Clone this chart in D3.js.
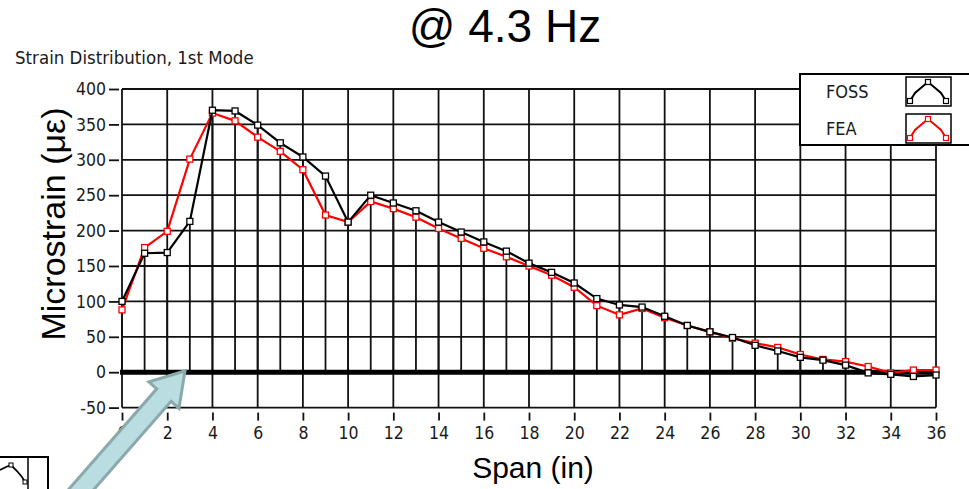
<!DOCTYPE html>
<html>
<head>
<meta charset="utf-8">
<script src="https://cdn.jsdelivr.net/npm/d3@7"></script>
<style>
  body { margin: 0; background: #fff; }
  svg { display: block; }
  .lv { font-family: "DejaVu Sans Condensed", "DejaVu Sans", sans-serif; fill: #1a1a1a; }
  .big { font-family: "Liberation Sans", Arial, sans-serif; fill: #000; }
</style>
</head>
<body>
<svg id="chart" width="969" height="489"></svg>
<script>
// span positions (in) and measured strain values (microstrain)
const spanIn = [0, 1, 2, 3, 4, 5, 6, 7, 8, 9, 10, 11, 12, 13, 14, 15, 16, 17, 18,
  19, 20, 21, 22, 23, 24, 25, 26, 27, 28, 29, 30, 31, 32, 33, 34, 35, 36];
const foss = [100, 168, 169, 213, 370, 369, 349, 324, 304, 277, 212, 250, 239, 228, 212, 198, 184, 171, 154,
  141, 126, 104, 95, 92, 79, 66, 57, 49, 38, 30, 21, 17, 10, -1, -3, -6, -4];
const fea = [88, 176, 199, 301, 366, 355, 332, 312, 286, 222, 212, 241, 231, 219, 203, 189, 175, 163, 150,
  137, 120, 94, 81, 90, 77, 66, 57, 48, 41, 35, 25, 18, 15, 8, -1, 3, 3];
const xTicks = [0, 2, 4, 6, 8, 10, 12, 14, 16, 18, 20, 22, 24, 26, 28, 30, 32, 34, 36];
const yTicks = [-50, 0, 50, 100, 150, 200, 250, 300, 350, 400];
const seriesNames = ["FOSS", "FEA"];
const seriesColors = ["#000000", "#ff0000"];

const svg = d3.select("#chart");

const x = d3.scaleLinear().domain([0, 36]).range([122, 936]);
const y = d3.scaleLinear().domain([-50, 400]).range([407.6, 89]);

// titles
svg.append("text").attr("class", "big")
  .attr("x", 505).attr("y", 42).attr("text-anchor", "middle")
  .style("font-size", "46px").text("@ 4.3 Hz");

svg.append("text").attr("class", "lv")
  .attr("x", 15).attr("y", 64)
  .style("font-size", "18.5px").text("Strain Distribution, 1st Mode");

// grid
const grid = svg.append("g");
grid.selectAll(".hg").data(yTicks).enter().append("line")
  .attr("x1", x(0)).attr("x2", x(36))
  .attr("y1", d => y(d)).attr("y2", d => y(d))
  .attr("stroke", "#111").attr("stroke-width", 1.8);
grid.selectAll(".vg").data(xTicks).enter().append("line")
  .attr("x1", d => x(d)).attr("x2", d => x(d))
  .attr("y1", y(-50)).attr("y2", y(400))
  .attr("stroke", "#111").attr("stroke-width", 1.8);

// drop lines from FOSS points to zero
grid.selectAll(".drop").data(spanIn).enter().append("line")
  .attr("x1", d => x(d)).attr("x2", d => x(d))
  .attr("y1", (d, i) => y(foss[i])).attr("y2", y(0))
  .attr("stroke", "#111").attr("stroke-width", 1.8);

// zero line
svg.append("line")
  .attr("x1", x(0) - 2).attr("x2", x(36) + 2)
  .attr("y1", y(0)).attr("y2", y(0))
  .attr("stroke", "#000").attr("stroke-width", 5);

// axes
const yAxis = svg.append("g").attr("transform", "translate(" + (x(0) - 3) + ",0)")
  .call(d3.axisLeft(y).tickValues(yTicks).tickFormat(d => String(d)).tickSize(10).tickPadding(3));
const xAxis = svg.append("g").attr("transform", "translate(0," + (y(-50) + 5) + ")")
  .call(d3.axisBottom(x).tickValues(xTicks).tickFormat(d => String(d)).tickSize(8).tickPadding(6));
[yAxis, xAxis].forEach(a => {
  a.select(".domain").remove();
  a.selectAll(".tick line").attr("stroke", "#111").attr("stroke-width", 1.8);
  a.selectAll(".tick text").attr("class", "lv").style("font-size", "17.5px").attr("fill", "#1a1a1a");
});

// series
const line = d3.line().x((d, i) => x(spanIn[i])).y(d => y(d));
const series = [fea, foss];
const cols = [seriesColors[1], seriesColors[0]];
series.forEach((s, k) => {
  svg.append("path").datum(s)
    .attr("d", line).attr("fill", "none")
    .attr("stroke", cols[k]).attr("stroke-width", 2.2);
  svg.selectAll(".m" + k).data(s).enter().append("rect")
    .attr("x", (d, i) => x(spanIn[i]) - 3).attr("y", d => y(d) - 3)
    .attr("width", 6).attr("height", 6)
    .attr("fill", "#fff").attr("stroke", cols[k]).attr("stroke-width", 1.3);
});

// legend
const lg = svg.append("g");
lg.append("rect").attr("x", 800).attr("y", 74).attr("width", 190).attr("height", 71)
  .attr("fill", "#fff").attr("stroke", "#000").attr("stroke-width", 2);
seriesNames.forEach((name, i) => {
  const top = 77 + i * 37;
  lg.append("text").attr("class", "lv").attr("x", 826).attr("y", top + 21)
    .style("font-size", "18px").text(name);
  lg.append("rect").attr("x", 906).attr("y", top).attr("width", 45).attr("height", 29)
    .attr("fill", "#fff").attr("stroke", "#000").attr("stroke-width", 1.5);
  const icon = [[910, top + 24], [915, top + 16], [922, top + 10], [928, top + 5], [934, top + 10], [941, top + 16], [946, top + 24]];
  lg.append("path").attr("d", d3.line()(icon)).attr("fill", "none")
    .attr("stroke", seriesColors[i]).attr("stroke-width", 2);
  [icon[0], icon[3], icon[6]].forEach(p => {
    lg.append("rect").attr("x", p[0] - 2.5).attr("y", p[1] - 2.5).attr("width", 5).attr("height", 5)
      .attr("fill", "#fff").attr("stroke", seriesColors[i]).attr("stroke-width", 1.2);
  });
});

// cropped fragment of another legend, bottom left
const frag = svg.append("g");
frag.append("rect").attr("x", -2).attr("y", 457).attr("width", 50).attr("height", 40)
  .attr("fill", "#fff").attr("stroke", "#000").attr("stroke-width", 2);
frag.append("line").attr("x1", 28).attr("x2", 28).attr("y1", 457).attr("y2", 489)
  .attr("stroke", "#000").attr("stroke-width", 1.5);
const fIcon = [[0, 470], [6, 467], [11, 465], [17, 471], [22, 477], [25, 482]];
frag.append("path").attr("d", d3.line()(fIcon)).attr("fill", "none").attr("stroke", "#000").attr("stroke-width", 1.8);
[fIcon[2], fIcon[5]].forEach(p => {
  frag.append("rect").attr("x", p[0] - 2).attr("y", p[1] - 2).attr("width", 4).attr("height", 4)
    .attr("fill", "#fff").attr("stroke", "#000").attr("stroke-width", 1);
});

// axis titles
svg.append("text").attr("class", "big")
  .attr("transform", "translate(65,224) rotate(-90)").attr("text-anchor", "middle")
  .style("font-size", "34px").text("Microstrain (με)");
svg.append("text").attr("class", "big")
  .attr("x", 533).attr("y", 478).attr("text-anchor", "middle")
  .style("font-size", "30px").text("Span (in)");

// arrow callout
const tail = [72, 500], tip = [185, 371];
const dx = tip[0] - tail[0], dy = tip[1] - tail[1];
const len = Math.hypot(dx, dy);
const u = [dx / len, dy / len], n = [-u[1], u[0]];
const headLen = 32, headW = 20, shaftW = 9.5;
const base = [tip[0] - u[0] * headLen, tip[1] - u[1] * headLen];
const pt = (p, s) => [p[0] + n[0] * s, p[1] + n[1] * s];
const arrowPts = [pt(tail, shaftW), pt(base, shaftW), pt(base, headW), tip,
  pt(base, -headW), pt(base, -shaftW), pt(tail, -shaftW)];
svg.append("path").attr("d", d3.line()(arrowPts) + "Z")
  .attr("fill", "#b9dde1").attr("stroke", "#8ba9aa").attr("stroke-width", 3)
  .attr("stroke-linejoin", "miter");
</script>
</body>
</html>
